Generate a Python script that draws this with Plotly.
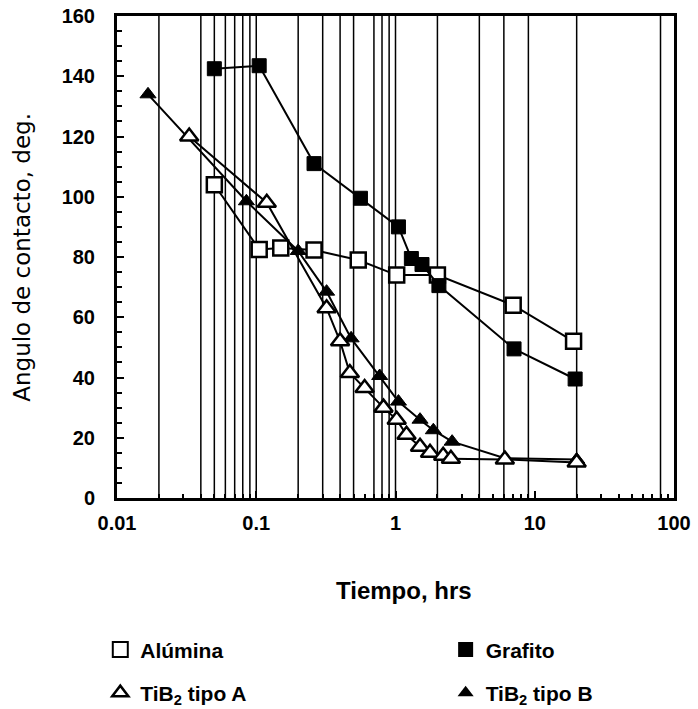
import plotly.graph_objects as go

# ---- data ----
alumina_x = [0.05, 0.105, 0.15, 0.26, 0.54, 1.02, 2.0, 7.0, 19.0]
alumina_y = [104, 82.5, 83, 82.3, 79, 74, 74, 64, 52]

grafito_x = [0.05, 0.105, 0.26, 0.56, 1.05, 1.3, 1.55, 2.05, 7.1, 19.5]
grafito_y = [142.5, 143.5, 111, 99.5, 90, 79.5, 77.5, 70.5, 49.5, 39.5]

tib2a_x = [0.033, 0.119, 0.32, 0.40, 0.47, 0.60, 0.82, 1.02, 1.2, 1.5, 1.77, 2.2, 2.5, 6.1, 20]
tib2a_y = [120, 98, 63, 52, 41.5, 36.5, 30, 26, 21, 17, 15, 14, 13, 12.8, 11.8]

tib2b_x = [0.0167, 0.085, 0.2, 0.32, 0.48, 0.77, 1.05, 1.5, 1.87, 2.55, 6.1, 20]
tib2b_y = [134, 98.5, 82, 68.5, 53, 40.5, 32, 26, 22.5, 18.7, 13.2, 12.8]

x_tickvals = [0.01, 0.1, 1, 10, 100]
x_ticktext = ["0.01", "0.1", "1", "10", "100"]
x_minor_tickvals = [m * d for d in (0.01, 0.1, 1, 10) for m in range(2, 10)]
y_tickvals = [0, 20, 40, 60, 80, 100, 120, 140, 160]
grid_x = [0.02, 0.04, 0.05, 0.06, 0.07, 0.08, 0.09, 0.1, 0.2, 0.3, 0.4, 0.5,
          0.7, 0.8, 0.9, 1, 2, 4, 6, 9, 20, 80]

names = ["Alúmina", "Grafito", "TiB<sub>2</sub> tipo A", "TiB<sub>2</sub> tipo B"]

TICKFONT = dict(family="Liberation Sans, Arial", size=20, color="black", weight="bold")
BOLD = dict(family="Liberation Sans, Arial", size=21, color="black", weight="bold")

fig = go.Figure()

line = dict(color="black", width=2)
sq_fill = dict(symbol="square", size=14, color="black", line=dict(width=1, color="black"))
tr_open = dict(symbol="triangle-up", size=16, color="white", line=dict(width=2.5, color="black"))
tr_fill = dict(symbol="triangle-up", size=14, color="black", line=dict(width=1, color="black"))

fig.add_trace(go.Scatter(x=alumina_x, y=alumina_y, mode="lines+markers", line=line,
                         marker=dict(symbol="square", size=15, color="white",
                                     line=dict(width=2.5, color="black")),
                         showlegend=False))
fig.add_trace(go.Scatter(x=grafito_x, y=grafito_y, mode="lines+markers", line=line,
                         marker=sq_fill, showlegend=False))
fig.add_trace(go.Scatter(x=tib2b_x, y=tib2b_y, mode="lines+markers", line=line,
                         marker=tr_fill, showlegend=False))
fig.add_trace(go.Scatter(x=tib2a_x, y=tib2a_y, mode="lines+markers", line=line,
                         marker=tr_open, showlegend=False))

# legend-only entries (markers without lines), one small legend per entry
leg_markers = [
    dict(symbol="square-open", size=15, color="black", line=dict(width=2)),
    dict(symbol="square", size=15, color="black"),
    dict(symbol="triangle-up-open", size=14, color="black", line=dict(width=2.5)),
    dict(symbol="triangle-up", size=14, color="black"),
]
leg_ids = ["legend", "legend2", "legend3", "legend4"]
for nm, mk, lg in zip(names, leg_markers, leg_ids):
    fig.add_trace(go.Scatter(x=[None], y=[None], mode="markers", name=nm,
                             marker=mk, legend=lg, showlegend=True))

for gx in grid_x:
    fig.add_shape(type="line", xref="x", yref="paper", x0=gx, x1=gx, y0=0, y1=1,
                  line=dict(color="black", width=1.5), layer="below")


def leg(x, y):
    return dict(x=x, xanchor="left", y=y, yanchor="middle", font=BOLD,
                bgcolor="rgba(0,0,0,0)", borderwidth=0)


fig.update_layout(
    width=698, height=709,
    margin=dict(l=117, r=24, t=16, b=211, autoexpand=False),
    plot_bgcolor="white", paper_bgcolor="white",
    xaxis=dict(type="log", range=[-2, 2], tickvals=x_tickvals, ticktext=x_ticktext,
               ticks="inside", ticklen=7, tickwidth=1.5, tickcolor="black",
               showgrid=False, zeroline=False, automargin=False,
               showline=True, linewidth=3, linecolor="black", mirror=True,
               tickfont=TICKFONT, ticklabelstandoff=5,
               minor=dict(tickmode="array", tickvals=x_minor_tickvals, ticks="inside",
                          ticklen=4, tickwidth=1.5, tickcolor="black", showgrid=False)),
    yaxis=dict(range=[0, 160], tickvals=y_tickvals,
               ticks="inside", ticklen=7, tickwidth=2, tickcolor="black",
               showgrid=False, zeroline=False, automargin=False,
               showline=True, linewidth=3, linecolor="black", mirror=True,
               tickfont=TICKFONT, ticklabelstandoff=15,
               minor=dict(dtick=5, ticks="inside", ticklen=5, tickwidth=2,
                          tickcolor="black", showgrid=False)),
    legend=leg(-0.03, -0.315),
    legend2=leg(0.59, -0.315),
    legend3=leg(-0.03, -0.4046),
    legend4=leg(0.59, -0.4046),
    annotations=[
        dict(text="Angulo de contacto, deg.", xref="paper", yref="paper",
             x=-0.171, y=0.5, xanchor="center", yanchor="middle",
             textangle=-90, showarrow=False,
             font=dict(family="DejaVu Sans, Verdana", size=23, color="black")),
        dict(text="Tiempo, hrs", xref="paper", yref="paper", x=0.516, y=-0.191,
             xanchor="center", yanchor="middle", showarrow=False,
             font=dict(family="Liberation Sans, Arial", size=24, color="black", weight="bold")),
    ],
)

fig.write_html("out.html")
